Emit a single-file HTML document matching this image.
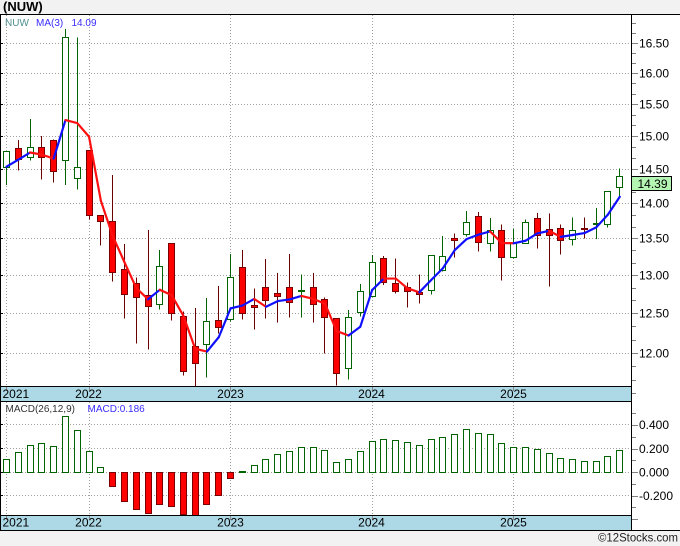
<!DOCTYPE html>
<html><head><meta charset="utf-8">
<style>
html,body{margin:0;padding:0;background:#f2f2f2;}
svg{display:block;}
text{font-family:"Liberation Sans",sans-serif;}
</style></head>
<body>
<svg id="s" width="680" height="546" viewBox="0 0 680 546" xmlns="http://www.w3.org/2000/svg" shape-rendering="crispEdges">
<rect x="0" y="0" width="680" height="546" fill="#f2f2f2"/>
<rect x="0" y="14" width="680" height="516" fill="#ffffff"/>
<rect x="0" y="387" width="631" height="14" fill="#add8e6"/>
<rect x="0" y="516" width="631" height="14" fill="#add8e6"/>
<g id="grid"></g>
<g id="cand"></g>
<g id="ma" shape-rendering="auto"></g>
<g id="macd"></g>
<g id="ticks"></g>
<g stroke="#000" stroke-width="1">
<line x1="0" y1="14.5" x2="680" y2="14.5"/>
<line x1="0.5" y1="14" x2="0.5" y2="530"/>
<line x1="631.5" y1="14" x2="631.5" y2="531"/>
<line x1="0" y1="386.5" x2="632" y2="386.5"/>
<line x1="0" y1="401.5" x2="632" y2="401.5"/>
<line x1="0" y1="515.5" x2="632" y2="515.5"/>
<line x1="0" y1="530.5" x2="680" y2="530.5"/>
</g>
<text x="3" y="11" font-size="13" font-weight="bold" fill="#000">(NUW)</text>
<text x="5" y="26" font-size="10" fill="#4f8f8f">NUW</text>
<text x="36" y="26" font-size="10" fill="#3a2cff">MA(3)</text>
<text x="71.5" y="26" font-size="10" fill="#3a2cff">14.09</text>
<text x="5.5" y="412" font-size="10" fill="#333">MACD(26,12,9)</text>
<text x="87.5" y="412" font-size="10" fill="#3a2cff">MACD:0.186</text>
<g font-size="12" fill="#000">
<text x="639" y="47.5">16.50</text>
<text x="639" y="77.5">16.00</text>
<text x="639" y="108.5">15.50</text>
<text x="639" y="140.5">15.00</text>
<text x="639" y="173.5">14.50</text>
<text x="639" y="207.5">14.00</text>
<text x="639" y="242.5">13.50</text>
<text x="639" y="279.5">13.00</text>
<text x="639" y="317.5">12.50</text>
<text x="639" y="357.5">12.00</text>
<text x="639" y="429">0.400</text>
<text x="639" y="453">0.200</text>
<text x="639" y="476.5">0.000</text>
<text x="639" y="500">-0.200</text>
<text x="2.5" y="398">2021</text>
<text x="88.5" y="398" text-anchor="middle">2022</text>
<text x="230.5" y="398" text-anchor="middle">2023</text>
<text x="371.5" y="398" text-anchor="middle">2024</text>
<text x="513.5" y="398" text-anchor="middle">2025</text>
<text x="2.5" y="526.5">2021</text>
<text x="88.5" y="526.5" text-anchor="middle">2022</text>
<text x="230.5" y="526.5" text-anchor="middle">2023</text>
<text x="371.5" y="526.5" text-anchor="middle">2024</text>
<text x="513.5" y="526.5" text-anchor="middle">2025</text>
</g>
<rect x="631.5" y="176.5" width="40" height="14" fill="#b4f5b4" stroke="#000"/>
<text x="637.5" y="188" font-size="12" fill="#000">14.39</text>
<text x="598" y="541.5" font-size="12" fill="#222" textLength="80" lengthAdjust="spacingAndGlyphs">©12Stocks.com</text>
</svg>
<script>
(function(){
const NS="http://www.w3.org/2000/svg";
function el(tag,attrs,parent){const e=document.createElementNS(NS,tag);for(const k in attrs)e.setAttribute(k,attrs[k]);parent.appendChild(e);return e;}
const C=[
[151,151,166.5,185,'g'],
[140,148.3,159.3,170.7,'r'],
[119,147.3,157.3,160.7,'g'],
[136,147.3,157.3,179.3,'r'],
[139.7,139.7,171.3,182.7,'r'],
[29,37.3,160.3,185,'g'],
[37.3,166.7,178.2,189.3,'g'],
[150,150.3,215,219.3,'r'],
[215.3,215.3,221.3,245.3,'r'],
[175,220.7,272.3,281.7,'r'],
[244,269.3,294.3,318.7,'r'],
[277.3,282.7,297.3,343.7,'r'],
[230,295,306.3,349.7,'r'],
[250,266.3,304.3,309.3,'g'],
[243.3,243.3,313.3,320.7,'r'],
[311.7,316,370.7,375.7,'r'],
[308,346.3,363.3,386,'r'],
[298,321.3,344.3,377.7,'g'],
[286,320.3,327.3,333.3,'r'],
[254,277.3,319.3,321.7,'g'],
[250,267.3,312.7,319.3,'r'],
[288.3,305.3,307.3,329.3,'r'],
[259,286.7,300.3,318.3,'r'],
[273,293.3,295.7,322.7,'r'],
[254,286.7,302.3,317.3,'r'],
[274.3,290,291.3,317.7,'g'],
[273,287.3,304.3,322.7,'r'],
[297.3,299,317,353.3,'r'],
[318.3,318.3,373.3,385.7,'r'],
[310,317.3,368.3,379.3,'g'],
[284,291.3,312.3,316.7,'g'],
[255,262.3,296.3,297,'g'],
[256,258.3,282.3,285,'r'],
[258.3,282.7,291.3,293.7,'r'],
[282.3,287.3,291.3,307.3,'r'],
[274.3,292,294.3,303.3,'r'],
[255.3,255.3,290,294.3,'g'],
[236,255.7,270,271.7,'g'],
[233.3,238.3,239.7,257.7,'r'],
[211,222.3,234.3,236.7,'g'],
[212,216,242.3,251.7,'r'],
[218,229.7,243.3,251.7,'g'],
[224.7,230.3,257.3,280.7,'r'],
[229,243,257.3,258.7,'g'],
[219.3,222.3,243.3,244,'g'],
[213,218.3,235.3,248.3,'r'],
[213.7,228.7,235,286.7,'r'],
[224.3,228.3,240.3,254.3,'r'],
[217.3,229.7,238.7,245.3,'g'],
[217.3,228.3,229.3,238.7,'r'],
[208,223.3,224.3,239,'g'],
[191.3,191.3,224,227.3,'g'],
[168.3,176.3,186.5,196.5,'g']
];
const M=[0.108,0.167,0.227,0.244,0.218,0.474,0.355,0.176,0.045,-0.122,-0.25,-0.318,-0.352,-0.275,-0.292,-0.36,-0.369,-0.275,-0.199,-0.048,0.01,0.057,0.108,0.153,0.176,0.21,0.21,0.184,0.082,0.108,0.176,0.261,0.278,0.270,0.252,0.227,0.278,0.295,0.323,0.363,0.329,0.321,0.244,0.216,0.216,0.193,0.159,0.116,0.108,0.094,0.094,0.133,0.184];
const cx=i=>6.5+i*11.794;
const col=i=>Math.floor(cx(i))+0.5;
const grid=document.getElementById('grid');
const GC='#a0a0a0';
const hl=[43,73,104,136,169,203,238,275,313,353];
hl.forEach(y=>el('line',{x1:1,x2:631,y1:y+.5,y2:y+.5,stroke:GC,'stroke-dasharray':'1,2'},grid));
const ml=[424,448,472,495];
ml.forEach(y=>el('line',{x1:1,x2:631,y1:y+.5,y2:y+.5,stroke:GC,'stroke-dasharray':'1,2'},grid));
[0,7,19,31,43].forEach(i=>{const x=col(i);
 el('line',{x1:x,x2:x,y1:15,y2:386,stroke:GC,'stroke-dasharray':'1,2'},grid);
 el('line',{x1:x,x2:x,y1:402,y2:515,stroke:GC,'stroke-dasharray':'1,2'},grid);
 el('line',{x1:x,x2:x,y1:387,y2:391,stroke:'#888'},grid);
 el('line',{x1:x,x2:x,y1:516,y2:520,stroke:'#888'},grid);
});
// candles
const cand=document.getElementById('cand');
C.forEach((c,i)=>{const x=col(i);const g=c[4]==='g';
 el('line',{x1:x,x2:x,y1:c[0],y2:c[3],stroke:g?'#006400':'#6a0000'},cand);
 let t=Math.round(c[1]),b=Math.round(c[2]);if(b-t<1)b=t+1;
 el('rect',{x:x-3,y:t+.5,width:6,height:b-t,fill:g?'#ffffff':'#ff0000',stroke:g?'#006400':'#7a0000'},cand);
});
// MA(3)
const P=y=>16.5*Math.exp(-(y-43)/973.4);
const Y=p=>43+973.4*Math.log(16.5/p);
const close=C.map(c=>c[4]==='g'?c[1]:c[2]);
const ma=[];
for(let i=0;i<C.length;i++){
 if(i===0)ma.push(166.7);else if(i===1)ma.push(159.7);
 else ma.push(Y((P(close[i])+P(close[i-1])+P(close[i-2]))/3));
}
const mg=document.getElementById('ma');
for(let i=1;i<ma.length;i++){
 const up=ma[i]<ma[i-1];
 el('line',{x1:cx(i-1),y1:ma[i-1],x2:cx(i),y2:ma[i],stroke:up?'#1010ff':'#ff1010','stroke-width':2.2,'stroke-linecap':'round'},mg);
}
// MACD
const mc=document.getElementById('macd');
M.forEach((v,i)=>{const x=col(i);
 let y1=Math.round(472-v*117.5);y1=Math.max(402,Math.min(515,y1));
 const t=Math.min(472,y1),b=Math.max(472,y1);
 if(v>=0) el('rect',{x:x-3,y:t+.5,width:6,height:Math.max(b-t,1),fill:'#ffffff',stroke:'#006400'},mc);
 else el('rect',{x:x-3,y:t+.5,width:6,height:Math.max(b-t,1),fill:'#ff0000',stroke:'#7a0000'},mc);
});
// ticks
const tk=document.getElementById('ticks');
const TC='#808080';
function tick(y,len){el('line',{x1:632,x2:632+len,y1:Math.round(y)+.5,y2:Math.round(y)+.5,stroke:TC},tk);}
const hs=[23,33,43,53,63,73,83.3,93.6,104,114.7,125.3,136,147,158,169,180.3,191.7,203,214.8,226.5,238,250.3,262.7,275,287.7,300.3,313,326.3,339.7,353,366.3,379.6,393];
hs.forEach(y=>tick(y,hl.indexOf(Math.round(y))>=0?6:4));
[0.5,0.4,0.3,0.2,0.1,0,-0.1,-0.2,-0.3,-0.4].forEach(v=>{const y=472-v*117.5;const major=Math.abs(v*10)%2<0.01;tick(y,major?6:4);});
hl.forEach(y=>el('line',{x1:0,x2:3,y1:y+.5,y2:y+.5,stroke:'#000'},tk));
ml.forEach(y=>el('line',{x1:0,x2:3,y1:y+.5,y2:y+.5,stroke:'#000'},tk));
})();
</script>
</body></html>
